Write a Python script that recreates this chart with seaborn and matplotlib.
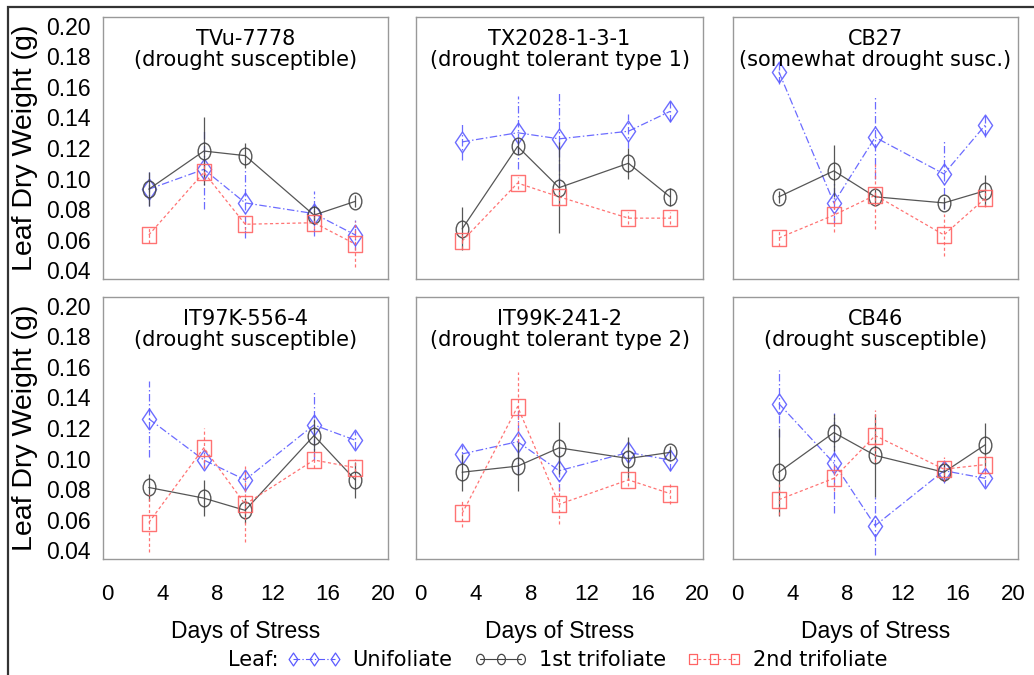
import numpy as np
import pandas as pd
import matplotlib
matplotlib.use("Agg")
import matplotlib.pyplot as plt
import seaborn as sns
from matplotlib.path import Path
from matplotlib.transforms import Affine2D
from matplotlib.lines import Line2D
from matplotlib.patches import Rectangle

# ---------------- data ----------------
days = [3, 7, 10, 15, 18]
titles = [
    "TVu-7778\n(drought susceptible)",
    "TX2028-1-3-1\n(drought tolerant type 1)",
    "CB27\n(somewhat drought susc.)",
    "IT97K-556-4\n(drought susceptible)",
    "IT99K-241-2\n(drought tolerant type 2)",
    "CB46\n(drought susceptible)",
]
series_names = ["Unifoliate", "1st trifoliate", "2nd trifoliate"]

unifoliate_mean = [
    [0.093, 0.106, 0.084, 0.077, 0.063],
    [0.124, 0.130, 0.126, 0.131, 0.144],
    [0.170, 0.084, 0.127, 0.103, 0.135],
    [0.126, 0.099, 0.086, 0.122, 0.112],
    [0.103, 0.111, 0.092, 0.104, 0.099],
    [0.136, 0.097, 0.056, 0.092, 0.087],
]
unifoliate_err = [
    [0.011, 0.026, 0.023, 0.015, 0.010],
    [0.012, 0.024, 0.030, 0.011, 0.007],
    [0.008, 0.013, 0.027, 0.023, 0.008],
    [0.025, 0.005, 0.008, 0.023, 0.006],
    [0.006, 0.021, 0.013, 0.006, 0.007],
    [0.022, 0.033, 0.019, 0.008, 0.006],
]
trif1_mean = [
    [0.093, 0.118, 0.115, 0.076, 0.085],
    [0.067, 0.121, 0.094, 0.110, 0.088],
    [0.088, 0.105, 0.088, 0.084, 0.092],
    [0.081, 0.074, 0.066, 0.115, 0.086],
    [0.091, 0.095, 0.107, 0.100, 0.104],
    [0.091, 0.117, 0.102, 0.091, 0.109],
]
trif1_err = [
    [0.011, 0.022, 0.008, 0.006, 0.004],
    [0.014, 0.005, 0.030, 0.010, 0.006],
    [0.004, 0.017, 0.005, 0.004, 0.010],
    [0.009, 0.012, 0.008, 0.011, 0.012],
    [0.012, 0.016, 0.017, 0.014, 0.004],
    [0.029, 0.012, 0.027, 0.006, 0.014],
]
trif2_mean = [
    [0.063, 0.104, 0.070, 0.071, 0.057],
    [0.059, 0.097, 0.088, 0.074, 0.074],
    [0.061, 0.076, 0.089, 0.063, 0.087],
    [0.058, 0.107, 0.070, 0.099, 0.094],
    [0.064, 0.134, 0.070, 0.086, 0.077],
    [0.073, 0.087, 0.115, 0.093, 0.096],
]
trif2_err = [
    [0.005, 0.005, 0.004, 0.004, 0.015],
    [0.005, 0.004, 0.006, 0.004, 0.004],
    [0.005, 0.011, 0.022, 0.014, 0.006],
    [0.019, 0.013, 0.025, 0.005, 0.006],
    [0.009, 0.023, 0.013, 0.004, 0.007],
    [0.010, 0.008, 0.017, 0.008, 0.006],
]
yticks = [0.04, 0.06, 0.08, 0.10, 0.12, 0.14, 0.16, 0.18, 0.20]
xticks = [0, 4, 8, 12, 16, 20]

# ---------------- style ----------------
sns.set_style("white")
plt.rcParams["font.family"] = ["DejaVu Sans"]
plt.rcParams["text.color"] = "black"

diamond = Path([(0, 1), (0.68, 0), (0, -1), (-0.68, 0), (0, 1)],
               [Path.MOVETO, Path.LINETO, Path.LINETO, Path.LINETO, Path.CLOSEPOLY])
ellipse = Path.unit_circle().transformed(Affine2D().scale(0.76, 1.0))
rect = Path([(-0.8, -1), (0.8, -1), (0.8, 1), (-0.8, 1), (-0.8, -1)],
            [Path.MOVETO, Path.LINETO, Path.LINETO, Path.LINETO, Path.CLOSEPOLY])

c_uni = "#5c5cff"
c_t1 = "#444444"
c_t2 = "#ff6464"
ls_uni = (0, (6, 2, 1.2, 2))
ls_t1 = "-"
ls_t2 = (0, (2.5, 2))

styles = [
    (c_uni, diamond, ls_uni, 15.0),
    (c_t1, ellipse, ls_t1, 12.0),
    (c_t2, rect, ls_t2, 12.0),
]

W, H = 1034, 675
fig = plt.figure(figsize=(W / 100, H / 100), dpi=100)

cols = [(103, 388), (416, 703), (733, 1018)]
rows = [(17, 279), (297, 559)]

tick_font = "Liberation Sans"
axes = []
for r, (top, bot) in enumerate(rows):
    for c, (left, right) in enumerate(cols):
        ax = fig.add_axes([left / W, 1 - bot / H, (right - left) / W, (bot - top) / H])
        axes.append((r, c, ax))

for idx, (r, c, ax) in enumerate(axes):
    means = [unifoliate_mean[idx], trif1_mean[idx], trif2_mean[idx]]
    errs = [unifoliate_err[idx], trif1_err[idx], trif2_err[idx]]
    for (color, mk, ls, ms), m, e, name in zip(styles, means, errs, series_names):
        eb = ax.errorbar(days, m, yerr=e, fmt="none", ecolor=color,
                         elinewidth=0.9, capsize=0, alpha=0.9)
        eb.lines[2][0].set_linestyle(ls)
        df = pd.DataFrame({"day": days, "weight": m})
        sns.lineplot(data=df, x="day", y="weight", ax=ax, color=color,
                     marker=mk, markersize=ms, linestyle=ls, linewidth=0.9,
                     markerfacecolor="none", markeredgecolor=color,
                     markeredgewidth=1.0, legend=False, alpha=0.9)
    ax.set_xlim(-0.33, 20.38)
    ax.set_ylim(0.0341, 0.2059)
    ax.set_xticks(xticks)
    ax.set_yticks(yticks)
    ax.set_xlabel("")
    ax.set_ylabel("")
    for s in ax.spines.values():
        s.set_color("#999999")
        s.set_linewidth(1.0)
    ax.tick_params(axis="both", colors="#888888", labelcolor="black",
                   direction="out", width=1.0)
    ax.tick_params(axis="x", length=10, pad=8)
    ax.tick_params(axis="y", length=6, pad=3)
    ax.set_xticklabels([str(v) for v in xticks], fontfamily=tick_font, fontsize=16)
    ax.set_yticklabels(["%.2f" % v for v in yticks], fontfamily=tick_font, fontsize=16.5)
    if c != 0:
        ax.tick_params(axis="y", left=False, labelleft=False)
    if r == 0:
        ax.tick_params(axis="x", bottom=False, labelbottom=False)
    else:
        ax.set_xlabel("Days of Stress", fontfamily=tick_font, fontsize=16.5,
                      labelpad=11, color="black")
    ax.text(0.5, 0.955, titles[idx], transform=ax.transAxes, ha="center", va="top",
            fontsize=15, linespacing=1.08, fontfamily="DejaVu Sans", color="black")

for (top, bot) in rows:
    fig.text(25 / W, 1 - (top + bot) / 2 / H, "Leaf Dry Weight (g)", rotation=90,
             ha="center", va="center", fontsize=20.5, fontfamily=tick_font,
             color="black")

# legend
handles = []
for color, mk, ls, ms in styles:
    handles.append(Line2D([0], [0], color=color, marker=mk, markersize=ms * 0.62,
                          markerfacecolor="none", markeredgecolor=color,
                          markeredgewidth=0.9, linestyle=ls, linewidth=0.8))
fig.text(228 / W, 1 - 660 / H, "Leaf:", ha="left", va="center", fontsize=15,
         color="black")
leg = fig.legend(handles, series_names, loc="center left",
                 bbox_to_anchor=(287 / W, 1 - 660 / H), ncol=3, frameon=False,
                 borderpad=0, borderaxespad=0, handlelength=2.6, handletextpad=0.55,
                 columnspacing=1.0, numpoints=3, fontsize=15)
for t in leg.get_texts():
    t.set_color("black")

# outer frame
fig.patches.append(Rectangle((8 / W, -0.05), 1.2, 1 - 7 / H + 0.05,
                             transform=fig.transFigure, fill=False,
                             edgecolor="#333333", linewidth=1.6))

fig.savefig("out.png", dpi=100)
